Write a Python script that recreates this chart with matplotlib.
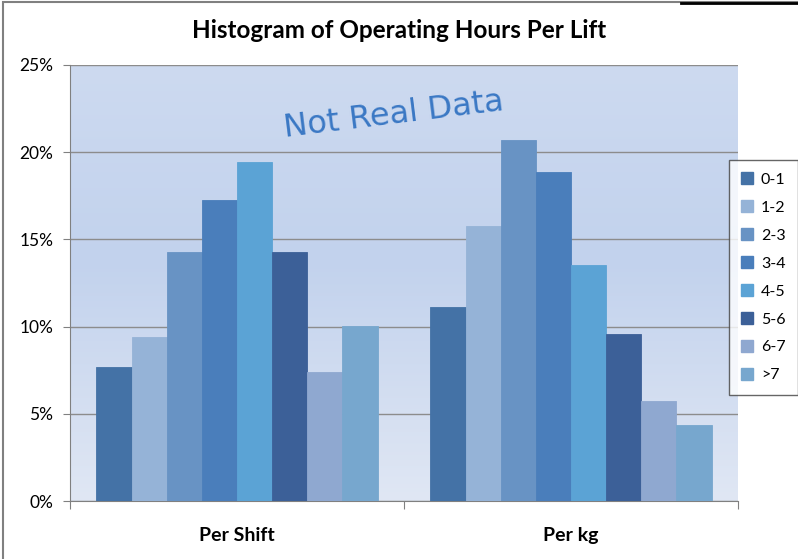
import numpy as np
import matplotlib
matplotlib.use('Agg')
from matplotlib import pyplot as plt
from matplotlib.patches import Rectangle
from matplotlib.lines import Line2D
from matplotlib.ticker import PercentFormatter

groups = ['Per Shift', 'Per kg']
bins = ['0-1', '1-2', '2-3', '3-4', '4-5', '5-6', '6-7', '>7']
per_shift = [7.66, 9.38, 14.28, 17.28, 19.46, 14.28, 7.37, 10.04]
per_kg = [11.15, 15.79, 20.69, 18.84, 13.56, 9.55, 5.75, 4.35]
colors = ['#4472A6', '#95B3D7', '#6893C4', '#4A7EBB', '#5BA3D5', '#3C6098', '#8FA8D0', '#77A7CE']
yticks = [0, 5, 10, 15, 20, 25]

plt.rcParams['font.family'] = ['Lato', 'DejaVu Sans']

fig = plt.figure(figsize=(7.98, 5.59), dpi=100)
ax = fig.add_axes([70/798, 1-501/559, 668/798, 436/559])

# gradient background for the plot area (row 0 = top)
grad = np.array([[205, 218, 240], [194, 210, 237], [224, 231, 244]]) / 255.0
t = np.linspace(0, 1, 200)
cols = np.vstack([np.interp(t, [0, 0.45, 1], grad[:, k]) for k in range(3)]).T
ax.imshow(cols[:, None, :], extent=[-0.5, 1.5, 0, 25], origin='upper', aspect='auto', zorder=0)

w = 1 / 9.5
x = np.arange(len(groups))
for i, b in enumerate(bins):
    vals = [per_shift[i], per_kg[i]]
    ax.bar(x + (i - 3.5) * w, vals, w, color=colors[i], edgecolor=colors[i],
           linewidth=0.6, label=b, zorder=3)

ax.set_xlim(-0.5, 1.5)
ax.set_ylim(0, 25)
ax.set_yticks(yticks)
ax.yaxis.set_major_formatter(PercentFormatter(decimals=0))
ax.yaxis.grid(True, color='#8c8c8c', linewidth=1.0, zorder=1)
ax.set_axisbelow(True)
ax.set_xticks([-0.5, 0.5, 1.5])
ax.set_xticklabels([])
ax.tick_params(axis='x', direction='out', length=6, color='#808080')
ax.tick_params(axis='y', direction='out', length=5, color='#808080', labelsize=12.5, pad=7)
for s in ['top', 'right']:
    ax.spines[s].set_visible(False)
for s in ['left', 'bottom']:
    ax.spines[s].set_color('#808080')
for xi, g in zip(x, groups):
    ax.text(xi, -1.95, g, ha='center', va='center', fontsize=14, fontweight='bold')

ax.text(0.47, 22.1, 'Not Real Data', ha='center', va='center', fontsize=23,
        rotation=7, color='#3A78C4', family=['DejaVu Sans'], zorder=4)

fig.text(0.5, 1-31/559, 'Histogram of Operating Hours Per Lift', ha='center', va='center',
         fontsize=17.5, fontweight='bold')

handles = [Line2D([], [], marker='s', linestyle='none', markersize=8,
                  markerfacecolor=c, markeredgecolor=c) for c in colors]
leg = fig.legend(handles, bins, loc='upper left', bbox_to_anchor=(729/798, 1-160/559),
                 fontsize=11.5, frameon=True, fancybox=False, labelspacing=0.86,
                 handlelength=0.7, handletextpad=0.5, borderpad=0.8, borderaxespad=0)
leg.get_frame().set_edgecolor('#404040')
leg.get_frame().set_linewidth(1.0)

# chart area border (partly cropped in the original)
fig.add_artist(Rectangle((3/798, -0.1), 1.2, 1-2/559 + 0.1, transform=fig.transFigure,
                         fill=False, edgecolor='#808080', linewidth=1.5))
fig.add_artist(Line2D([681/798, 1], [1-3/559, 1-3/559], transform=fig.transFigure,
                      color='black', linewidth=2))

fig.savefig('out.png', dpi=100)
